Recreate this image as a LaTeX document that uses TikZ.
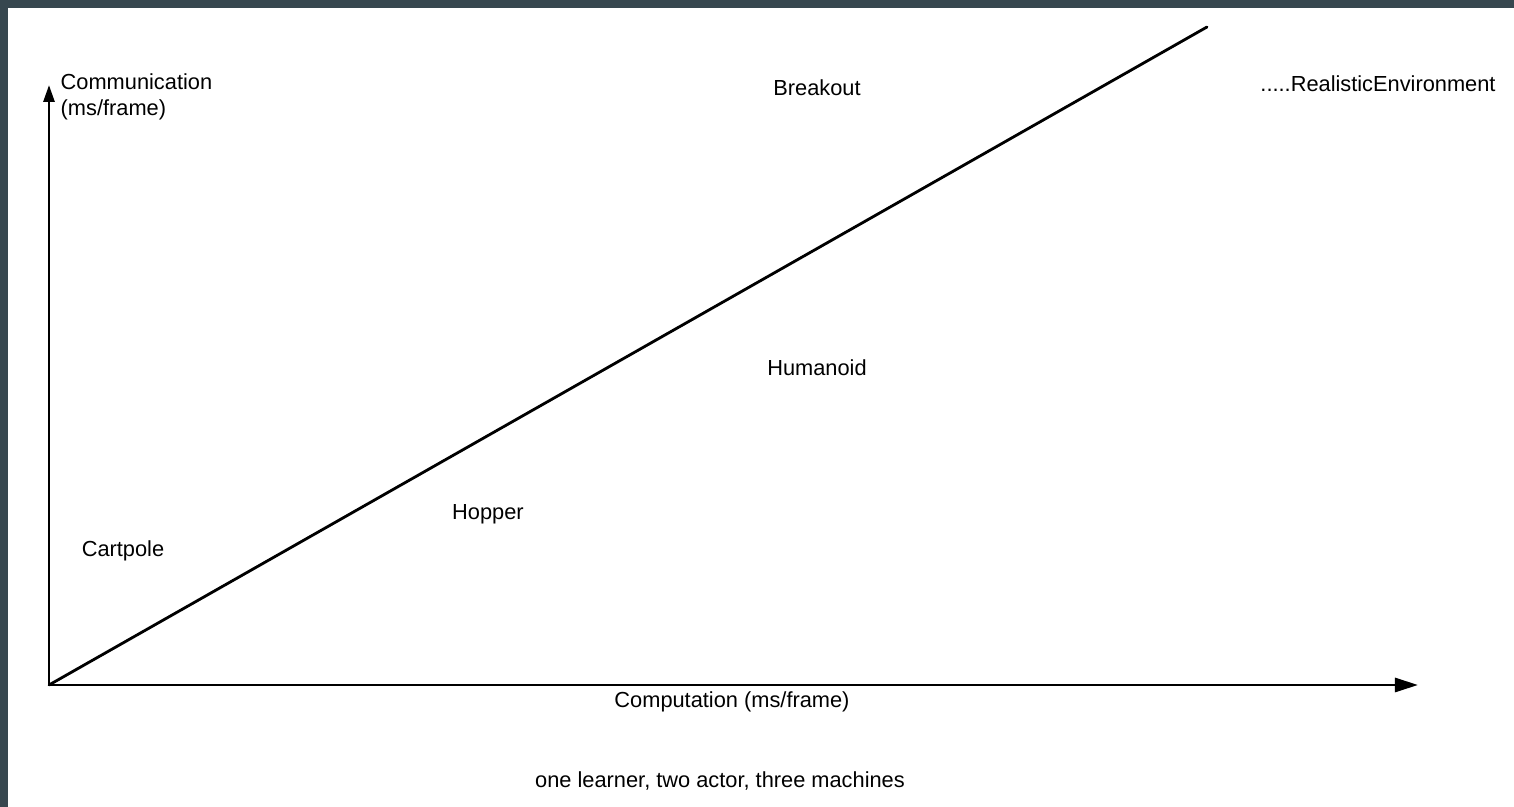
\documentclass[tikz,border=0pt]{standalone}
\usepackage{fontspec}
\setmainfont{Liberation Sans}
\usetikzlibrary{arrows.meta}
\definecolor{frame}{HTML}{37474F}
\begin{document}
\begin{tikzpicture}[x=0.01cm,y=-0.01cm,
  lbl/.style={inner sep=0pt,font=\fontsize{6.2}{7.4}\selectfont},
  axis/.style={line width=0.8pt,black}]
\useasboundingbox (0,0) rectangle (1514,807);
% page frame
\fill[white] (0,0) rectangle (1514,807);
\fill[frame] (0,0) rectangle (1514,8);
\fill[frame] (0,0) rectangle (8,807);

% axes
\coordinate (o) at (49,685);
\coordinate (ytop) at (49,85);
\coordinate (xend) at (1418,685);
\coordinate (diag) at (1207,27);
\draw[axis,-{Triangle[length=0.17cm,width=0.11cm]}] (o) -- (ytop);
\draw[axis,-{Triangle[length=0.23cm,width=0.14cm]}] (o) -- (xend);
\draw[axis,line cap=round] (o) -- (diag);

% axis titles
\node[lbl,anchor=west,align=left] (ylab) at (60,97) {Communication\\(ms/frame)};
\node[lbl] (xlab) at (732,702) {Computation (ms/frame)};

% environments
\node[lbl] (breakout) at (817,88) {Breakout};
\node[lbl] (realistic) at (1378,84) {.....RealisticEnvironment};
\node[lbl] (humanoid) at (817,368) {Humanoid};
\node[lbl] (hopper) at (488,514) {Hopper};
\node[lbl] (cartpole) at (123,551) {Cartpole};

% caption
\node[lbl] (caption) at (720,781) {one learner, two actor, three machines};
\end{tikzpicture}
\end{document}
